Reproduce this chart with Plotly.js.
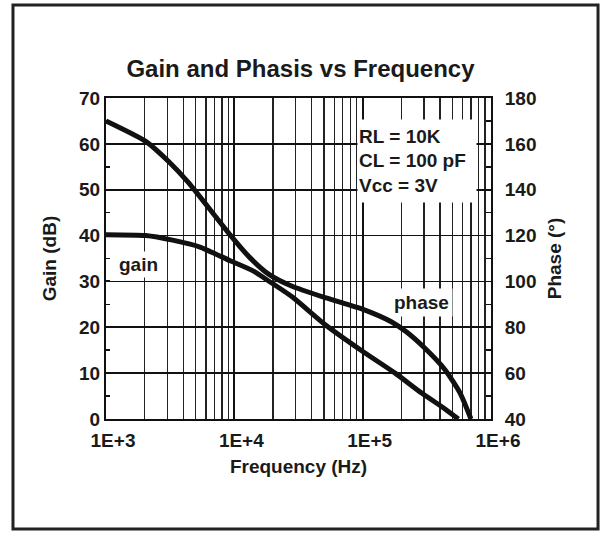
<!DOCTYPE html>
<html>
<head>
<meta charset="utf-8">
<script src="https://cdn.plot.ly/plotly-3.0.1.min.js"></script>
<style>
html,body{margin:0;padding:0;background:#fff;}
#chart{width:601px;height:533px;}
</style>
</head>
<body>
<div id="chart"></div>
<script>
// Frequency (Hz) and gain (dB)
const gainFreq = [1000, 2040, 3300, 5400, 9300, 14000, 18500, 28000, 52000, 103000, 179000, 290000, 438000, 557000];
const gainDb   = [40.2, 40.0, 39.0, 37.5, 34.5, 32.3, 30.1, 26.7, 20.4, 14.5, 10.0, 5.6, 2.2, 0.0];

// Frequency (Hz) and phase (degrees)
const phaseFreq = [1000, 2040, 3090, 4360, 6150, 9300, 13100, 18500, 27900, 51900, 103000, 167000, 220000, 310000, 438000, 577000, 698000];
const phaseDeg  = [170, 161.1, 152.2, 143.3, 132.9, 120.2, 110.6, 103.2, 98, 92.8, 87.6, 82.4, 77.9, 70.5, 61.5, 51.1, 40];

const xTickVals = [1e3, 1e4, 1e5, 1e6];
const xTickText = ['1E+3', '1E+4', '1E+5', '1E+6'];
const conditions = ['RL = 10K', 'CL = 100 pF', 'Vcc = 3V'];

const FONT = 'Liberation Sans, Arial, sans-serif';
const bold = (size) => ({family: FONT, size: size, color: '#1a1a1a', weight: 700});

const traces = [
  {x: gainFreq, y: gainDb, type: 'scatter', mode: 'lines', line: {color: '#111', width: 5, shape: 'spline', smoothing: 0.6}, xaxis: 'x', yaxis: 'y', hoverinfo: 'skip'},
  {x: phaseFreq, y: phaseDeg, type: 'scatter', mode: 'lines', line: {color: '#111', width: 5, shape: 'spline', smoothing: 0.6}, xaxis: 'x', yaxis: 'y2', hoverinfo: 'skip'}
];

const layout = {
  width: 601, height: 533,
  margin: {l: 106, r: 110, t: 97.5, b: 113.5},
  paper_bgcolor: '#fff', plot_bgcolor: '#fff',
  showlegend: false,
  title: {text: 'Gain and Phasis vs Frequency', font: bold(24), x: 0.5, xanchor: 'center', y: 0.872, yanchor: 'middle'},
  xaxis: {
    type: 'log', range: [3, 6],
    tickmode: 'array', tickvals: xTickVals, ticktext: xTickText,
    tickfont: bold(19), ticks: '', ticklabelshift: 7, ticklabelstandoff: 3,
    showgrid: true, gridcolor: '#111', gridwidth: 1.8,
    minor: {tickmode: 'linear', dtick: 'D1', showgrid: true, gridcolor: '#222', gridwidth: 1.3, ticks: ''},
    showline: true, linecolor: '#111', linewidth: 2, mirror: true,
    zeroline: false,
    title: {text: 'Frequency (Hz)', font: bold(19), standoff: 10}
  },
  yaxis: {
    range: [0, 70], dtick: 10, tick0: 0,
    tickfont: bold(19), ticks: 'inside', ticklen: 4, tickcolor: '#111', tickwidth: 2,
    minor: {dtick: 5, ticks: 'inside', ticklen: 4, tickcolor: '#111', tickwidth: 1.5, showgrid: false},
    showgrid: true, gridcolor: '#111', gridwidth: 1.8,
    showline: true, linecolor: '#111', linewidth: 2, mirror: true,
    zeroline: false,
    title: {text: 'Gain (dB)', font: bold(19), standoff: 17}
  },
  yaxis2: {
    range: [40, 180], dtick: 20, tick0: 40, overlaying: 'y', side: 'right',
    tickfont: bold(19), ticks: 'inside', ticklen: 5, tickcolor: '#111', tickwidth: 1.5,
    ticklabelstandoff: 8,
    minor: {dtick: 10, ticks: 'inside', ticklen: 5, tickcolor: '#111', tickwidth: 1.5},
    showgrid: false, zeroline: false,
    showline: true, linecolor: '#111', linewidth: 2,
    title: {text: 'Phase (°)', font: bold(19), standoff: 12}
  },
  annotations: [
    {xref: 'x', yref: 'y', x: Math.log10(1778), y: 33.8, text: 'gain', showarrow: false, font: bold(19), bgcolor: '#fff', borderpad: 2},
    {xref: 'x', yref: 'y', x: Math.log10(289000), y: 25.5, text: 'phase', showarrow: false, font: bold(19), bgcolor: '#fff', borderpad: 3},
    {xref: 'paper', yref: 'paper', x: 0.808, y: 0.804, xanchor: 'center', yanchor: 'middle',
     text: conditions.join('<br>'), align: 'left', showarrow: false,
     font: bold(19), bgcolor: '#fff', width: 116, height: 80, valign: 'middle'}
  ],
  shapes: [
    {type: 'rect', xref: 'paper', yref: 'paper', x0: -0.2416, x1: 1.278, y0: -0.343, y1: 1.290,
     line: {color: '#222', width: 3}, fillcolor: 'rgba(0,0,0,0)', layer: 'below'}
  ]
};

Plotly.newPlot('chart', traces, layout, {staticPlot: true, displayModeBar: false});
</script>
</body>
</html>
